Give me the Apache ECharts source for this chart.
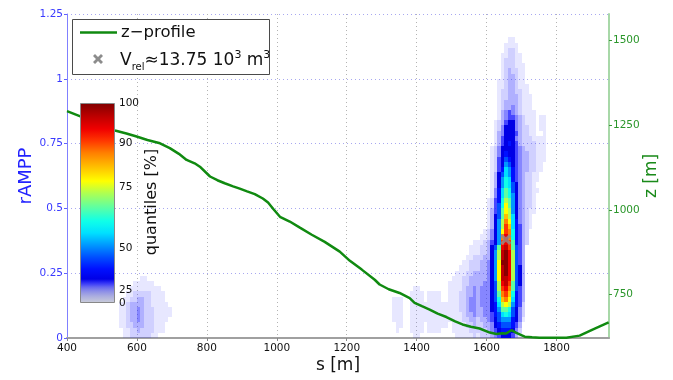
<!DOCTYPE html>
<html><head><meta charset="utf-8">
<script src="https://cdn.jsdelivr.net/npm/echarts@6/dist/echarts.min.js"></script>
<style>html,body{margin:0;padding:0;background:#fff}#c{width:673px;height:380px}</style>
</head><body><div id="c"></div>
<script>
// ---- axis ticks ----
const xTicks = [400, 600, 800, 1000, 1200, 1400, 1600, 1800];
const zTicks = [750, 1000, 1250, 1500];
const cbLabels = ['100', '90', '75', '50', '25', '0'];
const cbLabelPos = [100, 80, 58, 27.5, 6.5, 0];   // position along colour bar (0..100)

// ---- z-profile (s [m], z [m]) ----
const profileS = [400,440,480,537,570,599,630,666,694,720,742,765,780,809,830,851,875,894,915,937,960,975,990,1009,1037,1066,1100,1137,1180,1209,1243,1280,1294,1320,1351,1380,1394,1415,1437,1460,1485,1510,1531,1555,1580,1609,1628,1645,1655,1671,1685,1709,1730,1751,1790,1828,1866,1903,1949];
const profileZ = [1292,1276,1259,1235,1226,1217,1207,1197,1183,1166,1148,1138,1128,1099,1088,1079,1070,1063,1055,1047,1034,1022,1003,980,966,948,927,906,877,850,824,794,780,766,755,740,726,716,706,694,684,671,662,655,650,638,634,636,635,645,637,626,624,623,623,623,629,647,668];

// ---- reference point ----
const refPoint = [1655, 0.38];

// ---- density cells: each char = level, '.' = empty; rows top -> bottom ----
const cellW = 10, cellH = 0.02;
const levelChars = '123456789abcdefghijk';
const levelValues = [1.5,3.5,5.5,7.5,9.5,12,17,23,29,35,41,48,55,61,68,75,81,87,93,99];

const plumeX0 = 1570; // rows 57..0
const plumeRows = [
'.........11..........',
'........1111.........',
'........1221.........',
'.......112211........',
'.......122211........',
'.......1222111.......',
'.......1232211.......',
'.......1233211.......',
'......11233211.......',
'......112332111......',
'......122332211......',
'......1223332111.....',
'......1233332111.....',
'......1233432111.....',
'......13454321111....',
'......13455432111.11.',
'.....123566432111.11.',
'.....124666432211.11.',
'.....134666532211..1.',
'.....135666432221111.',
'.....135676532222111.',
'....1246666543222111.',
'....1246766543322111.',
'....1256876543322111.',
'....125698654332211..',
'....1257a9754332211..',
'....1368a975432211...',
'....1369ba75432211...',
'....1369ba8643221....',
'....147acb86432211...',
'....147acb9643221....',
'...1257bdc9643221....',
'...1258bec9643221....',
'...1358ced9643211....',
'...1368cfda64321.....',
'...1369dgea74321.....',
'...1369dhfa75321.....',
'..12469ehgb7532......',
'.112469gigb7532......',
'1123569hihc7532......',
'122368cijhc853.......',
'122369djkid853.......',
'223369djkid853.......',
'233469ekkid853.......',
'233469ejkid863.......',
'333469ejkid863.......',
'333469ejjid863.......',
'334468dijhc863.......',
'344468dhigc853.......',
'344468cghfb753.......',
'344468bfgea753.......',
'344467aded9752.......',
'3344679ccb8642.......',
'3344578aba8642.......',
'23345689997641.......',
'2233467888753........',
'2223456777642........',
'1222345666531........'
];

const lowX0 = 1320; // rows 18..0
const lowRows = [
'.................' + '.......1',
'.................' + '......11',
'.................' + '......11',
'.................' + '.....112',
'.................' + '....1122',
'.................' + '...11122',
'.................' + '..111223',
'.................' + '.1112233',
'.................' + '11112233',
'.......11........' + '11112334',
'......1111.1111..' + '11122334',
'.111..1111.1111..' + '11122344',
'.111..11111111111' + '11122344',
'.111..11111111111' + '11122344',
'.111..11111111111' + '11112334',
'.111..11111111111' + '11112233',
'..11..1111.111111' + '.1111223',
'..1...1111.1111..' + '.1111122',
'.......11........' + '..111112'
];

const blobX0 = 550; // rows 11..0
const blobRows = [
'......11.......',
'....111111.....',
'...111111111...',
'..11222221111..',
'.112233221111..',
'11233332211111.',
'112334322211111',
'112334322211111',
'11233432221111.',
'1122333222111..',
'.112232222111..',
'.1122222211....'
];

// ---- colour map stops (position 0..100 along colour bar) ----
const cStops = [
 [0,[60,60,255,0.03]],[1.5,[40,40,255,0.11]],[3.5,[40,40,255,0.22]],[5.5,[40,40,255,0.37]],
 [7.5,[40,40,255,0.56]],[9.5,[30,30,255,0.82]],[12,[0,0,230,1]],[17,[0,16,255,1]],
 [23,[0,80,255,1]],[29,[0,152,255,1]],[35,[0,224,255,1]],[41,[16,255,232,1]],
 [48,[96,255,160,1]],[55,[176,255,80,1]],[61,[255,255,0,1]],[68,[255,192,0,1]],
 [75,[255,128,0,1]],[81,[255,56,0,1]],[87,[240,0,0,1]],[93,[192,0,0,1]],[100,[128,0,0,1]]
];

function buildColormap(stops, n) {
  const out = [];
  for (let i = 0; i <= n; i++) {
    const p = i * 100 / n;
    let k = 0;
    while (k < stops.length - 2 && stops[k + 1][0] < p) k++;
    const p0 = stops[k][0], c0 = stops[k][1], p1 = stops[k + 1][0], c1 = stops[k + 1][1];
    const t = Math.min(1, Math.max(0, (p - p0) / (p1 - p0)));
    const c = c0.map((v, j) => v + (c1[j] - v) * t);
    out.push('rgba(' + Math.round(c[0]) + ',' + Math.round(c[1]) + ',' + Math.round(c[2]) + ',' + c[3].toFixed(3) + ')');
  }
  return out;
}

function addCells(rows, x0, out) {
  const n = rows.length;
  rows.forEach((row, i) => {
    const r = n - 1 - i;
    for (let c = 0; c < row.length; c++) {
      const k = levelChars.indexOf(row[c]);
      if (k >= 0) out.push([x0 + c * cellW, r * cellH, levelValues[k]]);
    }
  });
}
const cells = [];
addCells(blobRows, blobX0, cells);
addCells(lowRows, lowX0, cells);
addCells(plumeRows, plumeX0, cells);

function renderCell(params, api) {
  const x = api.value(0), y = api.value(1);
  const a = api.coord([x, y + cellH]);
  const b = api.coord([x + cellW, y]);
  const x0 = Math.round(a[0]), y0 = Math.round(a[1]);
  const x1 = Math.round(b[0]), y1 = Math.round(b[1]);
  return { type: 'rect', shape: { x: x0, y: y0, width: x1 - x0, height: y1 - y0 },
           style: { fill: api.visual('color') } };
}

const FONT = 'DejaVu Sans';
const plain = v => String(v);
const crossPath = 'path://M-5,-3 L-3,-5 L0,-2 L3,-5 L5,-3 L2,0 L5,3 L3,5 L0,2 L-3,5 L-5,3 L-2,0 Z';
const crossPts = [[-5,-3],[-3,-5],[0,-2],[3,-5],[5,-3],[2,0],[5,3],[3,5],[0,2],[-3,5],[-5,3],[-2,0]];

const cbTop = 103, cbH = 200, cbLeft = 80, cbW = 35;
const graphics = [
  { type: 'rect', z: 100, shape: { x: 72.5, y: 19.5, width: 197, height: 55 },
    style: { fill: '#fff', stroke: '#4a4a4a', lineWidth: 1 } },
  { type: 'line', z: 101, shape: { x1: 80, y1: 32.5, x2: 117, y2: 32.5 },
    style: { stroke: '#108a10', lineWidth: 2.5 } },
  { type: 'text', z: 101, x: 121, y: 33,
    style: { text: 'z\u2212profile', fontSize: 16.5, fontFamily: FONT, fill: '#111', verticalAlign: 'middle' } },
  { type: 'polygon', z: 101, shape: { points: crossPts.map(p => [98 + p[0], 59 + p[1]]) },
    style: { fill: '#8c8c8c' } },
  { type: 'text', z: 101, x: 120, y: 61,
    style: { text: '{v|V}{s|rel}{n|\u224813.75 10}{p|3}{n| m}{p|3}', fontFamily: FONT, fill: '#111',
      verticalAlign: 'middle',
      rich: {
        v: { fontSize: 17, lineHeight: 22, fontFamily: FONT, fill: '#111' },
        n: { fontSize: 17, lineHeight: 22, fontFamily: FONT, fill: '#111' },
        s: { fontSize: 10, lineHeight: 12, verticalAlign: 'bottom', fontFamily: FONT, fill: '#111' },
        p: { fontSize: 11, lineHeight: 10, verticalAlign: 'top', fontFamily: FONT, fill: '#111' }
      } } },
  { type: 'rect', z: 100, shape: { x: cbLeft + 0.5, y: cbTop + 0.5, width: cbW - 1, height: cbH - 1 },
    style: { fill: 'none', stroke: '#888', lineWidth: 1 } },
  { type: 'text', z: 100, x: 152, y: 202, rotation: Math.PI / 2,
    style: { text: 'quantiles [%]', fontSize: 16, fontFamily: FONT, fill: '#111', align: 'center', verticalAlign: 'middle' } }
];
cbLabels.forEach((t, i) => {
  graphics.push({ type: 'text', z: 100, x: cbLeft + cbW + 4, y: cbTop + cbH - cbLabelPos[i] * cbH / 100,
    style: { text: t, fontSize: 10.5, fontFamily: FONT, fill: '#111', verticalAlign: 'middle' } });
});

const chart = echarts.init(document.getElementById('c'), null, { renderer: 'canvas' });
chart.setOption({
  animation: false,
  textStyle: { fontFamily: FONT },
  grid: { left: 67, right: 64, top: 14, bottom: 42, containLabel: false },
  xAxis: {
    type: 'value', min: 400, max: 1950, interval: 200,
    name: 's [m]', nameLocation: 'middle', nameGap: 19, nameMoveOverlap: false,
    nameTextStyle: { color: '#111', fontSize: 17, fontFamily: FONT },
    axisLine: { show: true, onZero: false, lineStyle: { color: '#a0a0a0', width: 2 } },
    axisTick: { show: true, length: 3, customValues: xTicks, lineStyle: { color: '#888' } },
    axisLabel: { customValues: xTicks, formatter: plain, color: '#111', fontSize: 10.5, margin: 5, fontFamily: FONT },
    splitLine: { show: true, lineStyle: { color: '#b4b4b4', type: [1, 3], width: 1 } }
  },
  yAxis: [
    {
      type: 'value', min: 0, max: 1.25, interval: 0.25, position: 'left',
      name: 'rAMPP', nameLocation: 'middle', nameRotate: 90, nameGap: 32, nameMoveOverlap: false,
      nameTextStyle: { color: '#2222ff', fontSize: 18, fontFamily: FONT },
      axisLine: { show: true, lineStyle: { color: '#8080ff', width: 1 } },
      axisTick: { show: true, length: 3, lineStyle: { color: '#6060ff' } },
      axisLabel: { formatter: plain, color: '#3a3aff', fontSize: 10.5, margin: 4, fontFamily: FONT },
      splitLine: { show: true, lineStyle: { color: '#a8a8f0', type: [1, 3], width: 1 } }
    },
    {
      type: 'value', min: 622, max: 1579, position: 'right',
      name: 'z [m]', nameLocation: 'middle', nameRotate: 90, nameGap: 34, nameMoveOverlap: false,
      nameTextStyle: { color: '#1a8a1a', fontSize: 17, fontFamily: FONT },
      axisLine: { show: true, lineStyle: { color: '#a8d8a8', width: 2 } },
      axisTick: { show: true, length: 3, customValues: zTicks, lineStyle: { color: '#3a9a3a' } },
      axisLabel: { customValues: zTicks, formatter: plain, color: '#2a962a', fontSize: 10.5, margin: 4, fontFamily: FONT },
      splitLine: { show: false }
    }
  ],
  visualMap: {
    type: 'continuous', show: true, seriesIndex: 0, dimension: 2, min: 0, max: 100,
    inRange: { color: buildColormap(cStops, 200) },
    left: cbLeft, top: cbTop, itemWidth: cbW, itemHeight: cbH, orient: 'vertical',
    calculable: false, hoverLink: false, padding: 0, text: null
  },
  series: [
    { type: 'custom', name: 'quantiles', renderItem: renderCell, data: cells,
      encode: { x: 0, y: 1 }, clip: true, z: 2 },
    { type: 'line', name: 'z-profile', yAxisIndex: 1,
      data: profileS.map((s, i) => [s, profileZ[i]]),
      symbol: 'none', showSymbol: false, lineStyle: { color: '#108a10', width: 2.5 }, z: 3, clip: true },
    { type: 'scatter', name: 'Vrel', data: [refPoint], symbol: crossPath, symbolSize: 11,
      itemStyle: { color: '#8c8c8c' }, z: 4 }
  ],
  graphic: graphics
});
</script></body></html>
